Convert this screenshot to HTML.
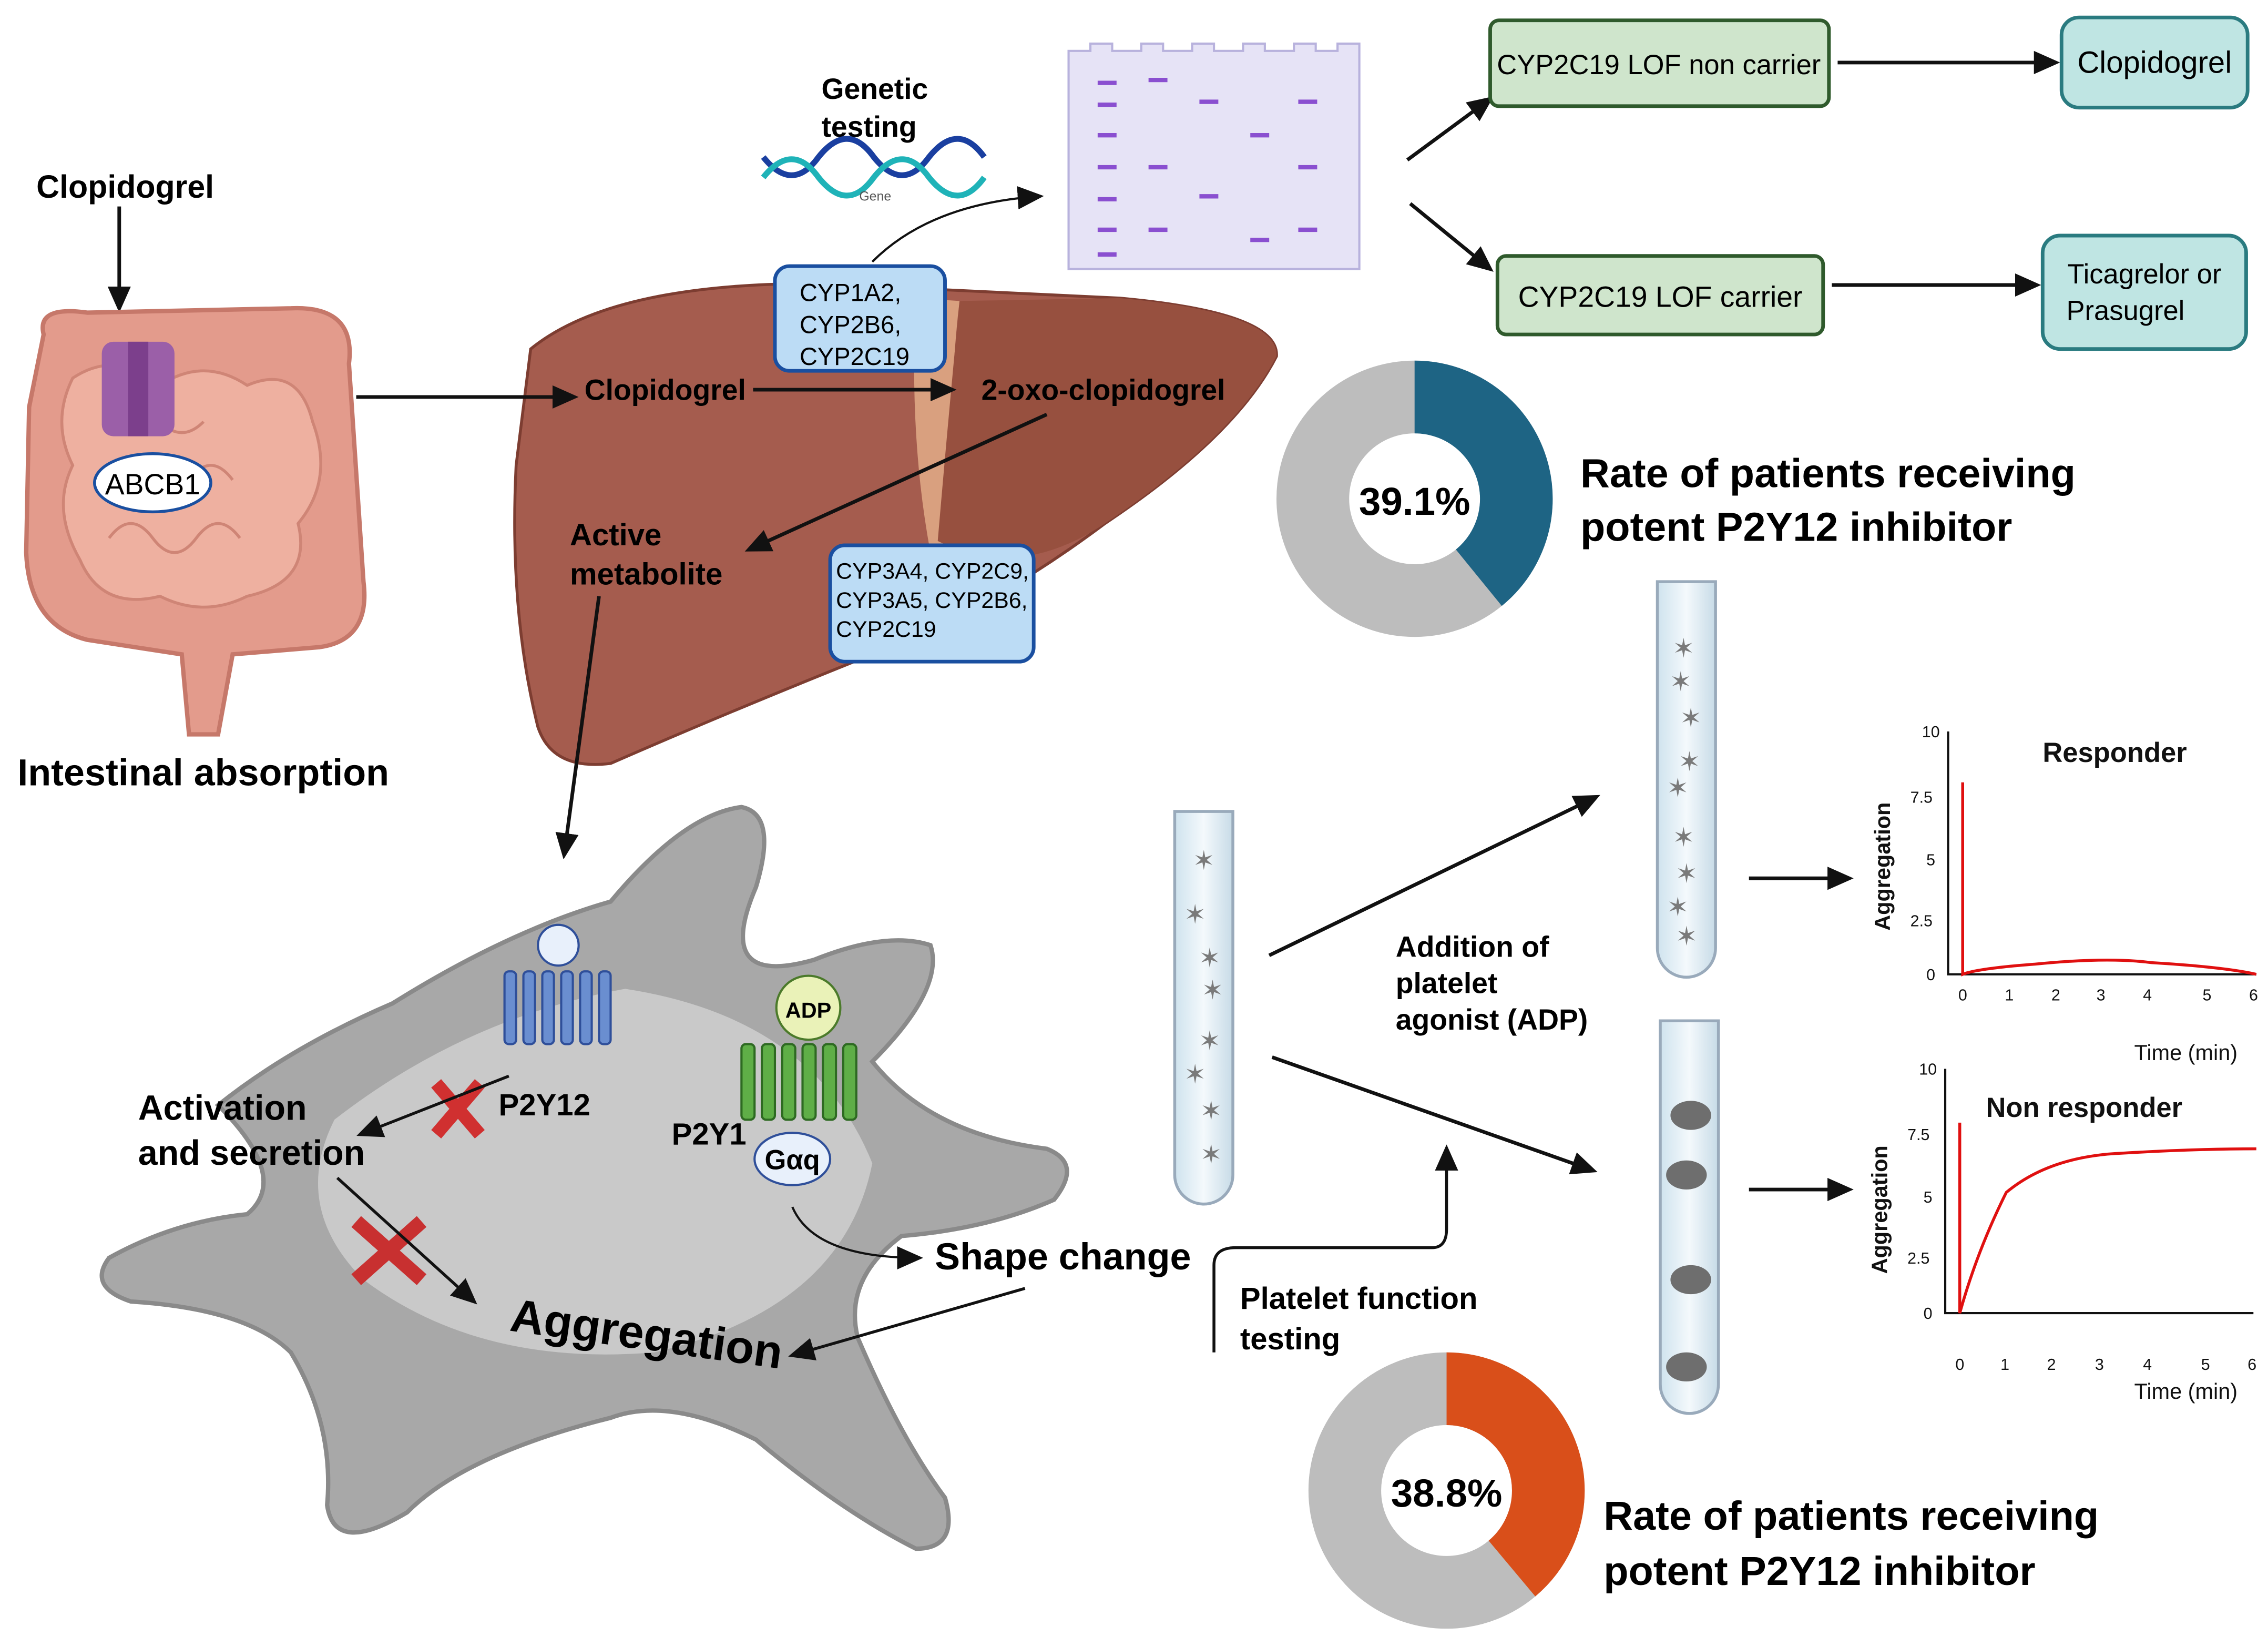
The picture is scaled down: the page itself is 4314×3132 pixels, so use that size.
<!DOCTYPE html>
<html><head><meta charset="utf-8"><style>
html,body{margin:0;padding:0;background:#fff;}
svg{display:block;}
text{font-family:"Liberation Sans",sans-serif;}
.b{font-weight:bold;}
</style></head><body>
<svg xmlns="http://www.w3.org/2000/svg" width="4314" height="3132" viewBox="0 0 1560 1132.6">
<defs>
<marker id="arb" markerWidth="18" markerHeight="16" refX="15" refY="8" orient="auto" markerUnits="userSpaceOnUse"><path d="M0,0 L18,8 L0,16 z" fill="#111"/></marker>
<linearGradient id="tube" x1="0" x2="1"><stop offset="0" stop-color="#cfe3ee"/><stop offset=".5" stop-color="#f4f9fc"/><stop offset="1" stop-color="#c7dbe7"/></linearGradient>
</defs>
<rect width="1560" height="1132.6" fill="#fff"/>

<!-- Intestine -->
<text x="25" y="136" class="b" font-size="22">Clopidogrel</text>
<line x1="82" y1="142" x2="82" y2="212" stroke="#111" stroke-width="2.5" marker-end="url(#arb)"/>
<path d="M30,230 Q25,210 60,215 L200,212 Q245,210 240,250 L250,400 Q255,440 220,445 L160,450 L150,505 L130,505 L125,450 L60,440 Q20,430 18,380 L20,280 Z" fill="#e39b8c" stroke="#c6786a" stroke-width="3"/>
<path d="M50,260 Q80,240 110,265 Q140,245 170,265 Q205,250 215,290 Q230,330 205,360 Q215,400 170,410 Q140,425 110,410 Q70,420 55,385 Q35,350 50,320 Q35,290 50,260Z" fill="#eeb0a0" stroke="#cf8576" stroke-width="2"/>
<path d="M70,330 q15,-20 30,0 q15,20 30,0 q15,-20 30,0 M75,370 q15,-20 30,0 q15,20 30,0 q15,-20 30,0 M80,290 q15,-15 30,0 q15,15 30,0" fill="none" stroke="#cf8576" stroke-width="2"/>
<rect x="70" y="235" width="50" height="65" rx="8" fill="#9b5fa8"/>
<rect x="88" y="235" width="14" height="65" fill="#7c3f8c"/>
<ellipse cx="105" cy="332" rx="40" ry="20" fill="#fff" stroke="#1a4fa0" stroke-width="2"/>
<text x="105" y="340" text-anchor="middle" font-size="20">ABCB1</text>
<text x="12" y="540" class="b" font-size="26">Intestinal absorption</text>

<!-- Liver -->
<path d="M365,240 Q420,195 560,195 L770,205 Q880,215 878,245 Q850,300 760,360 Q680,420 600,450 Q500,490 420,525 Q380,530 370,500 Q350,420 355,320 Z" fill="#a55c4e" stroke="#7d3d31" stroke-width="2"/>
<path d="M630,205 Q625,300 640,380 L660,372 Q650,290 660,207 Z" fill="#d9a07f"/>
<path d="M660,207 L770,205 Q880,215 878,245 Q850,300 760,360 Q700,400 645,372 Q652,290 660,207Z" fill="#97503f"/>
<line x1="245" y1="273" x2="395" y2="273" stroke="#111" stroke-width="2.5" marker-end="url(#arb)"/>
<text x="402" y="275" class="b" font-size="20">Clopidogrel</text>
<line x1="518" y1="268" x2="655" y2="268" stroke="#111" stroke-width="2.5" marker-end="url(#arb)"/>
<text x="675" y="275" class="b" font-size="20">2-oxo-clopidogrel</text>
<line x1="720" y1="285" x2="515" y2="378" stroke="#111" stroke-width="2.5" marker-end="url(#arb)"/>
<text x="392" y="375" class="b" font-size="21">Active</text>
<text x="392" y="402" class="b" font-size="21">metabolite</text>
<line x1="412" y1="410" x2="388" y2="588" stroke="#111" stroke-width="2.5" marker-end="url(#arb)"/>
<rect x="533" y="183" width="117" height="72" rx="10" fill="#bcdcf5" stroke="#1a4fa0" stroke-width="2.5"/>
<text x="550" y="207" font-size="17">CYP1A2,</text><text x="550" y="229" font-size="17">CYP2B6,</text><text x="550" y="251" font-size="17">CYP2C19</text>
<rect x="571" y="375" width="140" height="80" rx="10" fill="#bcdcf5" stroke="#1a4fa0" stroke-width="2.5"/>
<text x="575" y="398" font-size="15.5">CYP3A4, CYP2C9,</text><text x="575" y="418" font-size="15.5">CYP3A5, CYP2B6,</text><text x="575" y="438" font-size="15.5">CYP2C19</text>

<!-- Genetic testing -->
<text x="565" y="68" class="b" font-size="20">Genetic</text>
<text x="565" y="94" class="b" font-size="20">testing</text>
<path d="M525,108 q20,25 38,0 q20,-25 38,0 q20,25 38,0 q20,-25 38,0" fill="none" stroke="#1a3fa0" stroke-width="4"/>
<path d="M525,122 q20,-25 38,0 q20,25 38,0 q20,-25 38,0 q20,25 38,0" fill="none" stroke="#1fb3b8" stroke-width="4"/>
<text x="602" y="138" text-anchor="middle" font-size="9" fill="#555">Gene</text>
<path d="M600,180 Q640,140 715,135" fill="none" stroke="#111" stroke-width="1.5" marker-end="url(#arb)"/>
<path d="M735,185 V35 H750 V30 H765 V35 H785 V30 H800 V35 H820 V30 H835 V35 H855 V30 H870 V35 H890 V30 H905 V35 H920 V30 H935 V185 Z" fill="#e6e3f6" stroke="#b8b2dd" stroke-width="1.5"/>
<g stroke="#8a4fd0" stroke-width="3">
<line x1="755" y1="57" x2="768" y2="57"/><line x1="790" y1="55" x2="803" y2="55"/><line x1="825" y1="70" x2="838" y2="70"/><line x1="893" y1="70" x2="906" y2="70"/>
<line x1="755" y1="72" x2="768" y2="72"/><line x1="755" y1="93" x2="768" y2="93"/><line x1="860" y1="93" x2="873" y2="93"/>
<line x1="755" y1="115" x2="768" y2="115"/><line x1="790" y1="115" x2="803" y2="115"/><line x1="893" y1="115" x2="906" y2="115"/>
<line x1="755" y1="137" x2="768" y2="137"/><line x1="825" y1="135" x2="838" y2="135"/><line x1="755" y1="158" x2="768" y2="158"/><line x1="790" y1="158" x2="803" y2="158"/><line x1="893" y1="158" x2="906" y2="158"/><line x1="860" y1="165" x2="873" y2="165"/><line x1="755" y1="175" x2="768" y2="175"/>
</g>
<line x1="968" y1="110" x2="1025" y2="68" stroke="#111" stroke-width="2.5" marker-end="url(#arb)"/>
<line x1="970" y1="140" x2="1025" y2="185" stroke="#111" stroke-width="2.5" marker-end="url(#arb)"/>
<rect x="1025" y="14" width="233" height="59" rx="6" fill="#cfe5cc" stroke="#2f5a2c" stroke-width="2.5"/>
<text x="1141" y="51" text-anchor="middle" font-size="19">CYP2C19 LOF non carrier</text>
<rect x="1030" y="176" width="224" height="54" rx="6" fill="#cfe5cc" stroke="#2f5a2c" stroke-width="2.5"/>
<text x="1142" y="211" text-anchor="middle" font-size="20">CYP2C19 LOF carrier</text>
<line x1="1264" y1="43" x2="1414" y2="43" stroke="#111" stroke-width="2.5" marker-end="url(#arb)"/>
<line x1="1260" y1="196" x2="1401" y2="196" stroke="#111" stroke-width="2.5" marker-end="url(#arb)"/>
<rect x="1418" y="12" width="128" height="62" rx="12" fill="#bfe5e3" stroke="#2a7b80" stroke-width="2.5"/>
<text x="1482" y="50" text-anchor="middle" font-size="21">Clopidogrel</text>
<rect x="1405" y="162" width="140" height="78" rx="12" fill="#bfe5e3" stroke="#2a7b80" stroke-width="2.5"/>
<text x="1475" y="195" text-anchor="middle" font-size="19">Ticagrelor or</text><text x="1462" y="220" text-anchor="middle" font-size="19">Prasugrel</text>

<!-- Donuts -->
<circle cx="973" cy="343" r="70" fill="none" stroke="#bdbdbd" stroke-width="50"/>
<circle cx="973" cy="343" r="70" fill="none" stroke="#1e6484" stroke-width="50" stroke-dasharray="172 440" transform="rotate(-90 973 343)"/>
<text x="973" y="354" text-anchor="middle" class="b" font-size="27">39.1%</text>
<text x="1087" y="335" class="b" font-size="28">Rate of patients receiving</text>
<text x="1087" y="372" class="b" font-size="28">potent P2Y12 inhibitor</text>
<circle cx="995" cy="1025" r="70" fill="none" stroke="#bdbdbd" stroke-width="50"/>
<circle cx="995" cy="1025" r="70" fill="none" stroke="#d94f1a" stroke-width="50" stroke-dasharray="171 440" transform="rotate(-90 995 1025)"/>
<text x="995" y="1036" text-anchor="middle" class="b" font-size="27">38.8%</text>
<text x="1103" y="1052" class="b" font-size="28">Rate of patients receiving</text>
<text x="1103" y="1090" class="b" font-size="28">potent P2Y12 inhibitor</text>

<!-- Platelet -->
<path d="M150,760 Q200,720 270,690 Q350,640 420,620 Q470,560 510,555 Q535,560 520,610 Q490,680 560,660 Q610,640 640,650 Q650,680 600,730 Q640,780 720,790 Q745,800 725,825 Q680,845 620,850 Q580,880 590,920 Q620,990 650,1030 Q660,1065 630,1065 Q580,1040 520,990 Q460,960 420,975 Q320,1000 280,1040 Q230,1070 225,1035 Q230,980 200,930 Q170,900 90,895 Q60,885 75,865 Q120,840 170,835 Q200,810 150,760Z" fill="#a8a8a8" stroke="#8a8a8a" stroke-width="3"/>
<path d="M230,770 Q320,700 430,680 Q560,700 600,800 Q580,900 450,930 Q330,940 250,880 Q200,830 230,770Z" fill="#c9c9c9"/>
<g fill="#6a8ed0" stroke="#2f4f9a" stroke-width="1.5">
<rect x="347" y="668" width="8" height="50" rx="3"/><rect x="360" y="668" width="8" height="50" rx="3"/><rect x="373" y="668" width="8" height="50" rx="3"/><rect x="386" y="668" width="8" height="50" rx="3"/><rect x="399" y="668" width="8" height="50" rx="3"/><rect x="412" y="668" width="8" height="50" rx="3"/></g>
<circle cx="384" cy="650" r="14" fill="#e8f0fb" stroke="#2f4f9a" stroke-width="1.5"/>
<g fill="#5fae47" stroke="#2e6a22" stroke-width="1.5">
<rect x="510" y="718" width="9" height="52" rx="3"/><rect x="524" y="718" width="9" height="52" rx="3"/><rect x="538" y="718" width="9" height="52" rx="3"/><rect x="552" y="718" width="9" height="52" rx="3"/><rect x="566" y="718" width="9" height="52" rx="3"/><rect x="580" y="718" width="9" height="52" rx="3"/></g>
<circle cx="556" cy="693" r="22" fill="#eaf2b8" stroke="#4b7a2a" stroke-width="1.5"/>
<text x="556" y="700" text-anchor="middle" class="b" font-size="15">ADP</text>
<ellipse cx="545" cy="797" rx="26" ry="18" fill="#e8f0fb" stroke="#2f4f9a" stroke-width="1.5"/>
<text x="545" y="804" text-anchor="middle" class="b" font-size="19">Gαq</text>
<text x="343" y="767" class="b" font-size="21">P2Y12</text>
<text x="462" y="787" class="b" font-size="21">P2Y1</text>
<path d="M300,745 L330,780 M330,745 L300,780" stroke="#d03030" stroke-width="9"/>
<path d="M245,840 L290,880 M290,840 L245,880" stroke="#c83030" stroke-width="10"/>
<line x1="350" y1="740" x2="248" y2="780" stroke="#111" stroke-width="2" marker-end="url(#arb)"/>
<text x="95" y="770" class="b" font-size="24">Activation</text>
<text x="95" y="801" class="b" font-size="24">and secretion</text>
<line x1="232" y1="810" x2="326" y2="895" stroke="#111" stroke-width="2" marker-end="url(#arb)"/>
<path d="M545,830 Q560,865 632,865" fill="none" stroke="#111" stroke-width="1.5" marker-end="url(#arb)"/>
<text x="643" y="873" class="b" font-size="26">Shape change</text>
<line x1="705" y1="886" x2="545" y2="932" stroke="#111" stroke-width="2" marker-end="url(#arb)"/>
<text x="350" y="915" class="b" font-size="32" transform="rotate(8 350 915)">Aggregation</text>

<!-- Tubes -->
<g stroke="#9ab" stroke-width="2" fill="url(#tube)">
<path d="M808,558 h40 v250 a20,20 0 0 1 -40,0 z"/>
<path d="M1140,400 h40 v252 a20,20 0 0 1 -40,0 z"/>
<path d="M1142,702 h40 v250 a20,20 0 0 1 -40,0 z"/>
</g>
<g fill="#7a7a7a" font-size="18" text-anchor="middle">
<text x="828" y="598">✶</text><text x="822" y="635">✶</text><text x="832" y="665">✶</text><text x="834" y="687">✶</text><text x="832" y="722">✶</text><text x="822" y="745">✶</text><text x="833" y="770">✶</text><text x="833" y="800">✶</text>
<text x="1158" y="452">✶</text><text x="1156" y="475">✶</text><text x="1163" y="500">✶</text><text x="1162" y="530">✶</text><text x="1154" y="548">✶</text><text x="1158" y="582">✶</text><text x="1160" y="607">✶</text><text x="1154" y="630">✶</text><text x="1160" y="650">✶</text>
</g>
<g fill="#6e6e6e"><ellipse cx="1163" cy="767" rx="14" ry="10"/><ellipse cx="1160" cy="808" rx="14" ry="10"/><ellipse cx="1163" cy="880" rx="14" ry="10"/><ellipse cx="1160" cy="940" rx="14" ry="10"/></g>
<line x1="873" y1="657" x2="1098" y2="548" stroke="#111" stroke-width="2.5" marker-end="url(#arb)"/>
<line x1="875" y1="727" x2="1096" y2="805" stroke="#111" stroke-width="2.5" marker-end="url(#arb)"/>
<text x="960" y="658" class="b" font-size="20">Addition of</text>
<text x="960" y="683" class="b" font-size="20">platelet</text>
<text x="960" y="708" class="b" font-size="20">agonist (ADP)</text>
<path d="M835,930 V870 Q835,858 850,858 H985 Q995,858 995,845 V790" fill="none" stroke="#111" stroke-width="2" marker-end="url(#arb)"/>
<text x="853" y="900" class="b" font-size="21">Platelet function</text>
<text x="853" y="928" class="b" font-size="21">testing</text>
<line x1="1203" y1="604" x2="1272" y2="604" stroke="#111" stroke-width="2.5" marker-end="url(#arb)"/>
<line x1="1203" y1="818" x2="1272" y2="818" stroke="#111" stroke-width="2.5" marker-end="url(#arb)"/>

<!-- Chart 1 -->
<g font-size="11" fill="#111">
<path d="M1340,503 V670 H1552" fill="none" stroke="#111" stroke-width="1.5"/>
<text x="1322" y="507">10</text><text x="1314" y="552">7.5</text><text x="1325" y="595">5</text><text x="1314" y="637">2.5</text><text x="1325" y="674">0</text>
<text x="1347" y="688">0</text><text x="1379" y="688">1</text><text x="1411" y="688">2</text><text x="1442" y="688">3</text><text x="1474" y="688">4</text><text x="1515" y="688">5</text><text x="1547" y="688">6</text>
<text x="1468" y="729" font-size="15">Time (min)</text>
<text x="1300" y="640" font-size="15" transform="rotate(-90 1300 640)" class="b">Aggregation</text>
<text x="1405" y="524" font-size="19" class="b">Responder</text>
</g>
<path d="M1350,538 V670 Q1360,666 1400,663 Q1450,658 1480,662 Q1530,665 1552,670" fill="none" stroke="#e01010" stroke-width="2"/>
<!-- Chart 2 -->
<g font-size="11" fill="#111">
<path d="M1338,735 V903 H1550" fill="none" stroke="#111" stroke-width="1.5"/>
<text x="1320" y="739">10</text><text x="1312" y="784">7.5</text><text x="1323" y="827">5</text><text x="1312" y="869">2.5</text><text x="1323" y="907">0</text>
<text x="1345" y="942">0</text><text x="1376" y="942">1</text><text x="1408" y="942">2</text><text x="1441" y="942">3</text><text x="1474" y="942">4</text><text x="1514" y="942">5</text><text x="1546" y="942">6</text>
<text x="1468" y="962" font-size="15">Time (min)</text>
<text x="1298" y="876" font-size="15" transform="rotate(-90 1298 876)" class="b">Aggregation</text>
<text x="1366" y="768" font-size="19" class="b">Non responder</text>
</g>
<path d="M1348,772 V903 Q1360,860 1380,820 Q1410,795 1460,793 Q1510,790 1552,790" fill="none" stroke="#e01010" stroke-width="2"/>
</svg>
</body></html>
